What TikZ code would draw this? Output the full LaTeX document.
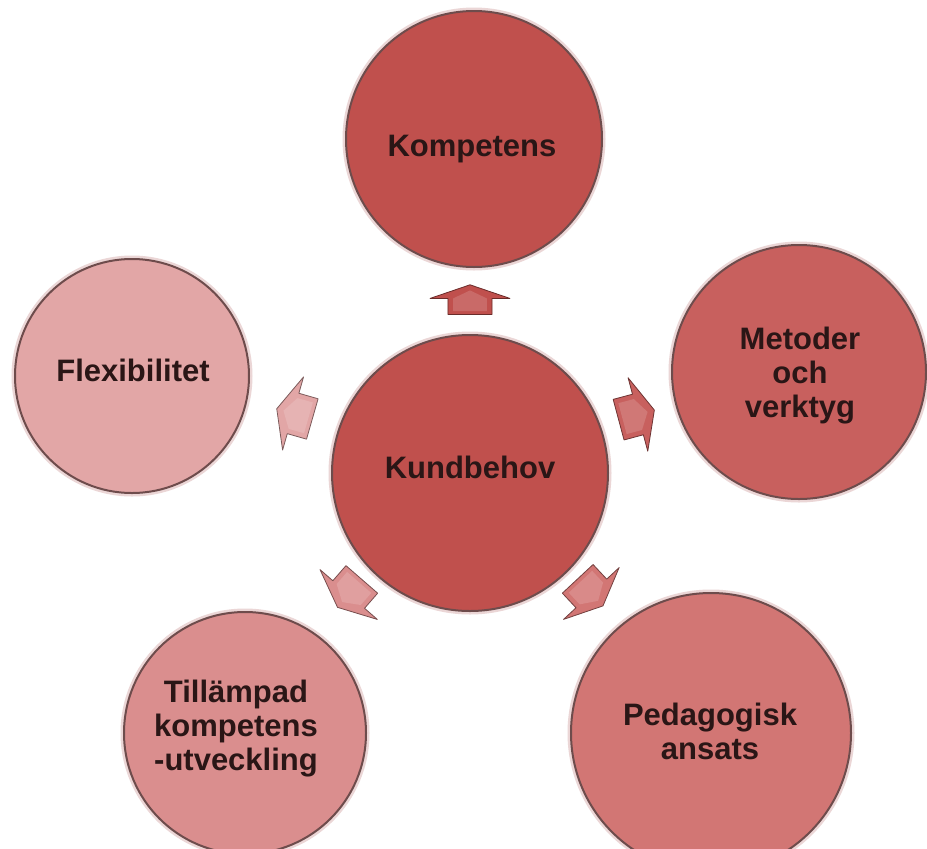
\documentclass[tikz,border=0pt]{standalone}
\usepackage{fontspec}
\setmainfont{Liberation Sans}
\usetikzlibrary{calc}
\definecolor{cA}{HTML}{C0504D}
\definecolor{cB}{HTML}{C8605E}
\definecolor{cC}{HTML}{D27674}
\definecolor{cD}{HTML}{DA8E8E}
\definecolor{cE}{HTML}{E2A6A6}
\definecolor{rimlight}{HTML}{EBD6D6}
\definecolor{rimdark}{HTML}{6E4C4C}
\definecolor{txt}{HTML}{2A1616}
\tikzset{
  bub/.style={circle, inner sep=0pt, minimum size=#1,
    preaction={draw=rimlight, line width=7pt},
    draw=rimdark, line width=2pt},
  lbl/.style={font=\bfseries\fontsize{31}{34}\selectfont, text=txt,
    align=center, inner sep=0pt},
  pics/blockarrow/.style={code={
    \filldraw[fill=#1, draw=#1!55!black, line width=0.8pt, line join=round]
      (-18,-21) -- (2,-21) -- (2,-38) -- (19,0) -- (2,38) -- (2,21)
      -- (-18,21) -- cycle;
    \fill[#1!85!white]
      (-14,-16) -- (2,-16) -- (12,0) -- (2,16) -- (-14,16) -- cycle;
  }}
}
\begin{document}
\begin{tikzpicture}[x=1pt, y=-1pt]
\useasboundingbox (0,0) rectangle (927,849);
\clip (0,0) rectangle (927,849);
\fill[white] (0,0) rectangle (927,849);

% circles
\node[bub=256, fill=cA] (k) at (474,139) {};
\node[bub=276, fill=cA] (c) at (470,473) {};
\node[bub=254, fill=cB] (m) at (799,372) {};
\node[bub=234, fill=cE] (f) at (132,376) {};
\node[bub=242, fill=cD] (t) at (245,733) {};
\node[bub=280, fill=cC] (p) at (711,733) {};

% labels
\node[lbl] (kl) at (472,149) {Kompetens};
\node[lbl] (cl) at (470,467) {Kundbehov};
\node[lbl] (ml) at (800,376) {Metoder\\och\\verktyg};
\node[lbl] (fl) at (133,370) {Flexibilitet};
\node[lbl] (tl) at (236,729) {Tillämpad\\kompetens\\-utveckling};
\node[lbl] (pl) at (710,731) {Pedagogisk\\ansats};

% block arrows
\pic[rotate=90, yscale=1.05, xscale=0.8] at (470,300) {blockarrow=cA};
\pic[rotate=15] at (636,415) {blockarrow=cB};
\pic[rotate=164] at (295,414) {blockarrow=cE};
\pic[rotate=229] at (350,593) {blockarrow=cD};
\pic[rotate=313] at (590,592) {blockarrow=cC};
\end{tikzpicture}
\end{document}
